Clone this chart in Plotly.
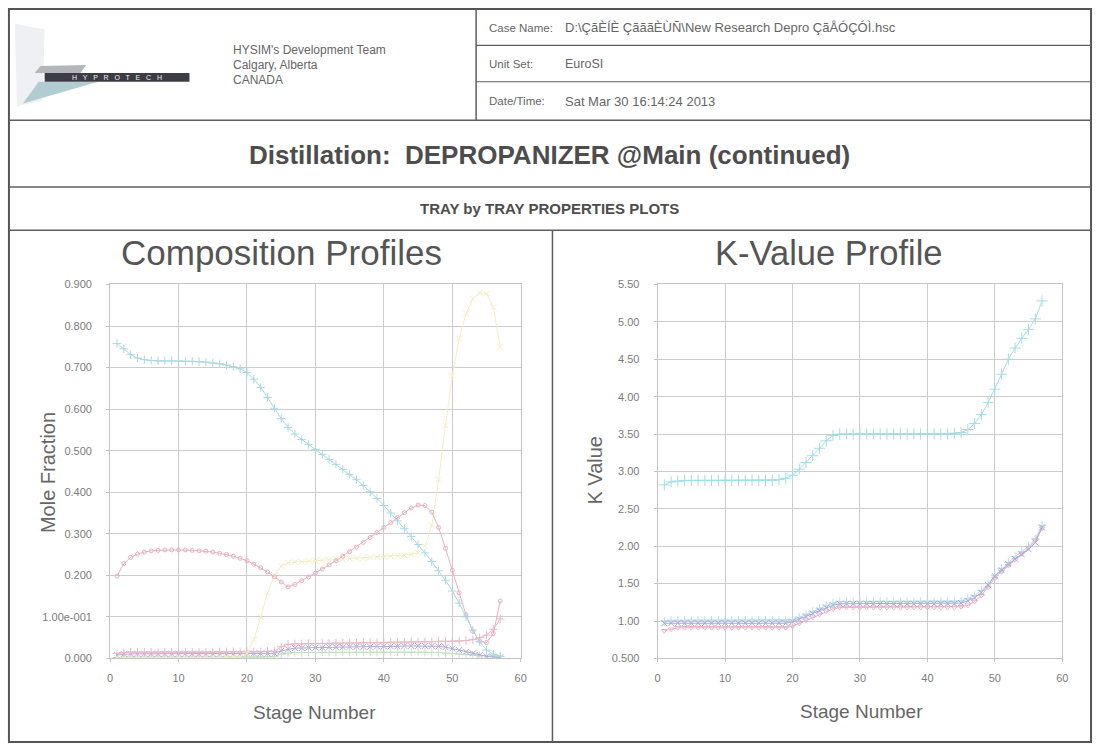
import plotly.graph_objects as go

# ---------------- data ----------------
stages = list(range(1, 58))

comp_cyan = [0.758, 0.745, 0.731, 0.723, 0.719, 0.717, 0.716, 0.716, 0.716, 0.716,
             0.715, 0.715, 0.714, 0.713, 0.711, 0.709, 0.706, 0.702, 0.697, 0.688,
             0.672, 0.652, 0.628, 0.602, 0.577, 0.556, 0.540, 0.527, 0.515, 0.503,
             0.491, 0.479, 0.467, 0.455, 0.443, 0.430, 0.416, 0.401, 0.385, 0.368,
             0.350, 0.331, 0.312, 0.293, 0.274, 0.254, 0.233, 0.211, 0.188, 0.162,
             0.133, 0.100, 0.068, 0.040, 0.020, 0.010, 0.005]
comp_pink = [0.198, 0.228, 0.243, 0.251, 0.256, 0.259, 0.260, 0.261, 0.261, 0.261,
             0.261, 0.260, 0.259, 0.258, 0.256, 0.253, 0.250, 0.246, 0.241, 0.235,
             0.227, 0.218, 0.208, 0.196, 0.184, 0.172, 0.178, 0.187, 0.196, 0.205,
             0.215, 0.225, 0.235, 0.246, 0.257, 0.268, 0.279, 0.291, 0.303, 0.315,
             0.327, 0.339, 0.351, 0.362, 0.369, 0.368, 0.352, 0.315, 0.265, 0.212,
             0.158, 0.105, 0.065, 0.042, 0.038, 0.060, 0.138]
comp_yellow = [0.001, 0.001, 0.001, 0.001, 0.001, 0.001, 0.001, 0.001, 0.001, 0.001,
               0.001, 0.001, 0.001, 0.002, 0.002, 0.002, 0.003, 0.003, 0.004, 0.012,
               0.045, 0.100, 0.158, 0.200, 0.222, 0.230, 0.232, 0.233, 0.234, 0.235,
               0.236, 0.237, 0.238, 0.239, 0.240, 0.241, 0.242, 0.243, 0.244, 0.245,
               0.246, 0.247, 0.248, 0.250, 0.254, 0.270, 0.320, 0.430, 0.560, 0.680,
               0.770, 0.830, 0.865, 0.880, 0.878, 0.845, 0.750]
comp_purple = [0.008, 0.010, 0.011, 0.011, 0.011, 0.011, 0.011, 0.011, 0.011, 0.011,
               0.011, 0.011, 0.011, 0.011, 0.011, 0.011, 0.011, 0.011, 0.011, 0.012,
               0.012, 0.012, 0.012, 0.012, 0.018, 0.022, 0.025, 0.025, 0.026, 0.026,
               0.026, 0.027, 0.027, 0.027, 0.028, 0.028, 0.028, 0.028, 0.029, 0.029,
               0.029, 0.029, 0.030, 0.030, 0.030, 0.030, 0.030, 0.029, 0.027, 0.024,
               0.020, 0.016, 0.012, 0.008, 0.005, 0.003, 0.002]
comp_salmon = [0.012, 0.014, 0.015, 0.015, 0.015, 0.015, 0.015, 0.015, 0.015, 0.015,
               0.015, 0.015, 0.015, 0.015, 0.015, 0.016, 0.016, 0.016, 0.016, 0.016,
               0.016, 0.016, 0.017, 0.017, 0.028, 0.034, 0.035, 0.035, 0.036, 0.036,
               0.036, 0.036, 0.037, 0.037, 0.037, 0.037, 0.038, 0.038, 0.038, 0.038,
               0.039, 0.039, 0.039, 0.040, 0.040, 0.040, 0.040, 0.041, 0.041, 0.041,
               0.042, 0.043, 0.045, 0.050, 0.056, 0.070, 0.095]
comp_green = [0.002, 0.003, 0.003, 0.003, 0.003, 0.003, 0.003, 0.003, 0.003, 0.003,
              0.003, 0.003, 0.003, 0.003, 0.003, 0.003, 0.003, 0.003, 0.003, 0.003,
              0.003, 0.003, 0.004, 0.004, 0.010, 0.013, 0.014, 0.014, 0.014, 0.014,
              0.015, 0.015, 0.015, 0.015, 0.015, 0.015, 0.015, 0.015, 0.015, 0.015,
              0.015, 0.015, 0.015, 0.015, 0.015, 0.015, 0.014, 0.014, 0.013, 0.012,
              0.010, 0.009, 0.008, 0.007, 0.006, 0.005, 0.004]

k_cyan = [2.82, 2.86, 2.87, 2.88, 2.88, 2.88, 2.88, 2.88, 2.88, 2.88,
          2.88, 2.88, 2.88, 2.88, 2.88, 2.88, 2.88, 2.89, 2.91, 2.95,
          3.03, 3.12, 3.21, 3.31, 3.41, 3.48, 3.50, 3.50, 3.50, 3.50,
          3.50, 3.50, 3.50, 3.50, 3.50, 3.50, 3.50, 3.50, 3.50, 3.50,
          3.50, 3.50, 3.50, 3.51, 3.52, 3.56, 3.64, 3.76, 3.92, 4.10,
          4.30, 4.50, 4.65, 4.78, 4.90, 5.04, 5.28]
k_purple = [0.97, 0.97, 0.97, 0.97, 0.97, 0.97, 0.97, 0.97, 0.97, 0.97,
            0.97, 0.97, 0.97, 0.97, 0.97, 0.97, 0.97, 0.97, 0.97, 0.99,
            1.02, 1.06, 1.10, 1.14, 1.18, 1.21, 1.23, 1.23, 1.23, 1.23,
            1.23, 1.23, 1.23, 1.23, 1.23, 1.23, 1.23, 1.23, 1.23, 1.23,
            1.23, 1.23, 1.23, 1.23, 1.24, 1.27, 1.31, 1.38, 1.48, 1.60,
            1.68, 1.76, 1.83, 1.89, 1.96, 2.05, 2.25]
k_pink = [0.87, 0.89, 0.91, 0.91, 0.91, 0.91, 0.91, 0.91, 0.91, 0.91,
          0.91, 0.91, 0.91, 0.91, 0.91, 0.91, 0.91, 0.91, 0.91, 0.93,
          0.97, 1.01, 1.05, 1.09, 1.13, 1.16, 1.18, 1.18, 1.18, 1.18,
          1.18, 1.18, 1.18, 1.18, 1.18, 1.18, 1.18, 1.18, 1.18, 1.18,
          1.18, 1.18, 1.18, 1.18, 1.19, 1.21, 1.26, 1.34, 1.45, 1.57,
          1.66, 1.74, 1.82, 1.90, 1.98, 2.08, 2.24]
k_lightblue = [1.00, 1.01, 1.01, 1.01, 1.01, 1.01, 1.01, 1.01, 1.01, 1.01,
               1.01, 1.01, 1.01, 1.01, 1.01, 1.01, 1.01, 1.01, 1.01, 1.02,
               1.05, 1.09, 1.13, 1.17, 1.21, 1.24, 1.26, 1.26, 1.26, 1.26,
               1.26, 1.26, 1.26, 1.26, 1.26, 1.26, 1.26, 1.26, 1.26, 1.26,
               1.26, 1.26, 1.26, 1.26, 1.27, 1.30, 1.34, 1.41, 1.50, 1.61,
               1.70, 1.78, 1.86, 1.93, 2.00, 2.10, 2.28]

x_ticks = [0, 10, 20, 30, 40, 50, 60]
comp_ytick_vals = [0.0, 0.1, 0.2, 0.3, 0.4, 0.5, 0.6, 0.7, 0.8, 0.9]
comp_ytick_text = ["0.000", "1.00e-001", "0.200", "0.300", "0.400", "0.500",
                   "0.600", "0.700", "0.800", "0.900"]
k_ytick_vals = [0.5, 1.0, 1.5, 2.0, 2.5, 3.0, 3.5, 4.0, 4.5, 5.0, 5.5]
k_ytick_text = ["0.500", "1.00", "1.50", "2.00", "2.50", "3.00", "3.50",
                "4.00", "4.50", "5.00", "5.50"]

# ---------------- layout helpers ----------------
W, H = 1101, 750
def px(x):
    return x / W
def py(y):
    return 1 - y / H

FONT = "Liberation Sans, Arial, sans-serif"
fig = go.Figure()

def add_series(x, y, color, symbol, xa, ya, size=6, lw=1.0):
    fig.add_trace(go.Scatter(
        x=x, y=y, mode="lines+markers", xaxis=xa, yaxis=ya,
        line=dict(color=color, width=lw),
        marker=dict(symbol=symbol, size=size, color=color,
                    line=dict(color=color, width=1)),
        showlegend=False, hoverinfo="x+y"))

# composition profiles
add_series(stages, comp_green, "#c4e2c2", "cross-thin", "x", "y")
add_series(stages, comp_purple, "#b0aadb", "x-thin", "x", "y")
add_series(stages, comp_salmon, "#ecb6c6", "cross-thin", "x", "y")
add_series(stages, comp_yellow, "#f3eec6", "x-thin", "x", "y")
add_series(stages, comp_pink, "#e9afc1", "circle-open", "x", "y", size=4)
add_series(stages, comp_cyan, "#a8d9e2", "cross-thin", "x", "y")

# K-value profile
add_series(stages, k_lightblue, "#b5e0e9", "cross-thin", "x2", "y2")
add_series(stages, k_pink, "#ebb5c7", "triangle-down-open", "x2", "y2", size=5)
add_series(stages, k_purple, "#ada7da", "x-thin", "x2", "y2")
add_series(stages, k_cyan, "#a2dde5", "cross-thin", "x2", "y2", size=8)

axis_common = dict(showgrid=True, gridcolor="#cdcdcd", gridwidth=1,
                   showline=True, linecolor="#c4c4c4", linewidth=1, mirror=True,
                   ticks="outside", ticklen=3, tickcolor="#c4c4c4",
                   tickfont=dict(family=FONT, size=11, color="#7c7c7c"),
                   zeroline=False, fixedrange=True)

fig.update_layout(
    width=W, height=H, margin=dict(l=0, r=0, t=0, b=0),
    paper_bgcolor="white", plot_bgcolor="white",
    font=dict(family=FONT),
    xaxis=dict(domain=[px(108), px(522)], range=[0, 60], tickvals=x_ticks,
               anchor="y", ticklabelstandoff=6, **axis_common),
    yaxis=dict(domain=[py(663), py(283)], range=[0, 0.9], tickvals=comp_ytick_vals,
               ticktext=comp_ytick_text, anchor="x", ticklabelstandoff=12, **axis_common),
    xaxis2=dict(domain=[px(660), px(1068)], range=[0, 60], tickvals=x_ticks,
                anchor="y2", ticklabelstandoff=6, **axis_common),
    yaxis2=dict(domain=[py(663), py(283)], range=[0.5, 5.5], tickvals=k_ytick_vals,
                ticktext=k_ytick_text, anchor="x2", ticklabelstandoff=12, **axis_common),
)

# ---------------- frame / table lines ----------------
shapes = []
def hline(y, x0, x1, w=1.5, c="#5e5e5e"):
    shapes.append(dict(type="line", xref="paper", yref="paper",
                       x0=px(x0), x1=px(x1), y0=py(y), y1=py(y),
                       line=dict(color=c, width=w)))
def vline(x, y0, y1, w=1.5, c="#5e5e5e"):
    shapes.append(dict(type="line", xref="paper", yref="paper",
                       x0=px(x), x1=px(x), y0=py(y0), y1=py(y1),
                       line=dict(color=c, width=w)))

shapes.append(dict(type="rect", xref="paper", yref="paper",
                   x0=px(6), x1=px(1097), y0=py(748), y1=py(3),
                   line=dict(color="#555555", width=2)))
hline(116, 6, 1097)
vline(477, 3, 116)
hline(40, 477, 1097, w=1.2)
hline(77, 477, 1097, w=1.2)
hline(184, 6, 1097)
hline(228, 6, 1097)
vline(554, 228, 748)

def path(pts):
    d = "M " + " L ".join(f"{px(a)} {py(b)}" for a, b in pts) + " Z"
    return d

# logo
shapes.append(dict(type="path", xref="paper", yref="paper",
                   path=path([(12, 18), (42, 24), (40, 96), (14, 102)]),
                   fillcolor="#eef0f3", line=dict(width=0)))
shapes.append(dict(type="path", xref="paper", yref="paper",
                   path=path([(32, 68), (38, 61), (84, 60), (78, 68)]),
                   fillcolor="#b3b7bc", line=dict(width=0)))
shapes.append(dict(type="path", xref="paper", yref="paper",
                   path=path([(36, 77), (96, 77), (20, 99)]),
                   fillcolor="#b2cdd1", line=dict(width=0)))
shapes.append(dict(type="rect", xref="paper", yref="paper",
                   x0=px(42), x1=px(188), y0=py(77), y1=py(68),
                   fillcolor="#3c3c44", line=dict(width=0)))
fig.update_layout(shapes=shapes)

# ---------------- text ----------------
ann = []
def text(x, y, s, size=11, color="#5f5f5f", xanchor="left", bold=False, angle=0):
    if bold:
        s = "<b>" + s + "</b>"
    ann.append(dict(xref="paper", yref="paper", x=px(x), y=py(y), text=s,
                    showarrow=False, xanchor=xanchor, yanchor="middle",
                    textangle=angle,
                    font=dict(family=FONT, size=size, color=color)))

text(115, 72.5, "H   Y   P   R   O   T   E   C   H", size=7, color="#f0f0f0",
     xanchor="center")
text(230, 45, "HYSIM's Development Team", size=12, color="#666666")
text(230, 60, "Calgary, Alberta", size=12, color="#666666")
text(230, 75, "CANADA", size=12, color="#666666")

text(488, 22, "Case Name:", size=11.5, color="#666666")
text(488, 59, "Unit Set:", size=11.5, color="#666666")
text(488, 97, "Date/Time:", size=11.5, color="#666666")
text(565, 22, "D:\\ÇãÈÍÈ ÇãããÈÙÑ\\New Research Depro ÇãÅÓÇÓÌ.hsc", size=13, color="#666666")
text(565, 59, "EuroSI", size=12.5, color="#666666")
text(565, 97, "Sat Mar 30 16:14:24 2013", size=13, color="#666666")

text(551, 151, "Distillation:  DEPROPANIZER @Main (continued)", size=26,
     color="#4d4d4d", xanchor="center", bold=True)
text(551, 206, "TRAY by TRAY PROPERTIES PLOTS", size=15, color="#4d4d4d",
     xanchor="center", bold=True)

text(281, 251, "Composition Profiles", size=35, color="#555555", xanchor="center")
text(833, 251, "K-Value Profile", size=34.5, color="#555555", xanchor="center")
text(314, 718, "Stage Number", size=19, color="#666666", xanchor="center")
text(866, 717, "Stage Number", size=19, color="#666666", xanchor="center")
text(46, 474, "Mole Fraction", size=20, color="#666666", xanchor="center", angle=-90)
text(597, 472, "K Value", size=20, color="#666666", xanchor="center", angle=-90)

fig.update_layout(annotations=ann)

fig.write_html("out.html", config={"displayModeBar": False},
               post_script="document.body.style.margin='0';")
